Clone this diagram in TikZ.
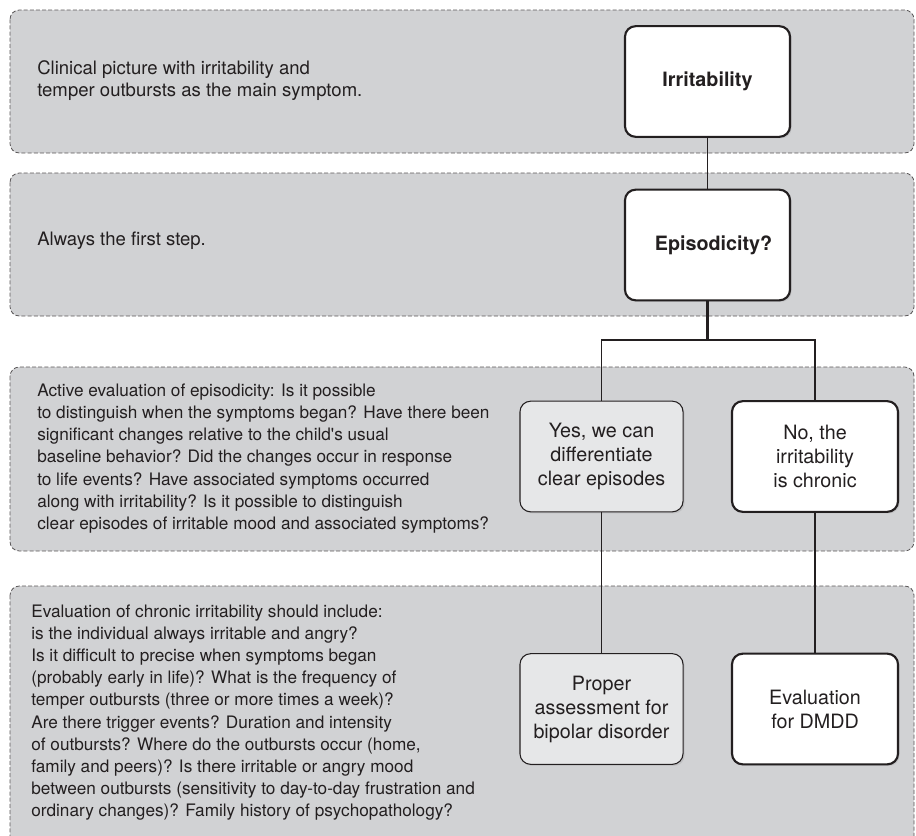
\documentclass[tikz,border=0pt]{standalone}
\usepackage{fontspec}
\setmainfont{TeX Gyre Heros}
\usetikzlibrary{shadows}
\definecolor{panelgray}{RGB}{209,210,212}
\definecolor{boxgray}{RGB}{230,231,232}
\definecolor{ink}{RGB}{35,31,32}

\begin{document}
\begin{tikzpicture}[x=0.75pt,y=-0.75pt,
  panel/.style={draw=ink!75, fill=panelgray, dash pattern=on 3pt off 1.6pt, line width=0.6pt, rounded corners=7pt},
  note/.style={anchor=west, align=left, text=ink, font=\fontsize{13.9}{16.6}\selectfont},
  longnote/.style={note, font=\fontsize{12.9}{16.6}\selectfont},
  stepbox/.style={draw=ink, fill=white, line width=1.6pt, rounded corners=8pt, align=center, text=ink,
    font=\fontsize{14.8}{18}\selectfont, minimum width=123.8pt, minimum height=83pt,
    drop shadow={shadow xshift=1.2pt, shadow yshift=-1.2pt, opacity=.2}},
  choicebox/.style={stepbox, fill=boxgray, line width=0.8pt, minimum width=122.3pt},
  thinlink/.style={draw=ink, line width=0.8pt},
  thicklink/.style={draw=ink, line width=1.7pt}]
\clip (0,0) rectangle (916,835);

% dashed bands
\draw[panel] (10,10) rectangle (914,153);
\draw[panel] (10,173) rectangle (914,316);
\draw[panel] (10,367) rectangle (914,551);
\draw[panel] (10,586) rectangle (914,860);

% notes on the left
\node[note] (n1) at (32.6,81) {Clinical picture with irritability and\\temper outbursts as the main symptom.};
\node[note] (n2) at (32.6,241) {Always the first step.};
\node[longnote] (n3) at (32.6,458.5) {Active evaluation of episodicity: Is it possible\\
  to distinguish when the symptoms began? Have there been\\
  significant changes relative to the child\textquotesingle s usual\\
  baseline behavior? Did the changes occur in response\\
  to life events? Have associated symptoms occurred\\
  along with irritability? Is it possible to distinguish\\
  clear episodes of irritable mood and associated symptoms?};
\node[longnote] (n4) at (26.6,712.5) {Evaluation of chronic irritability should include:\\
  is the individual always irritable and angry?\\
  Is it difficult to precise when symptoms began\\
  (probably early in life)? What is the frequency of\\
  temper outbursts (three or more times a week)?\\
  Are there trigger events? Duration and intensity\\
  of outbursts? Where do the outbursts occur (home,\\
  family and peers)? Is there irritable or angry mood\\
  between outbursts (sensitivity to day-to-day frustration and\\
  ordinary changes)? Family history of psychopathology?};

% decision boxes
\node[stepbox] (irr) at (707.5,81.5) {\bfseries Irritability};
\node[stepbox] (epi) at (707.5,245) {\bfseries\hspace{9pt}Episodicity?};
\node[choicebox] (yes) at (601.5,456.5) {Yes, we can\\differentiate\\clear episodes};
\node[stepbox, minimum width=124.5pt] (no) at (815,456.5) {No, the\\irritability\\is chronic};
\node[choicebox] (bip) at (601.5,709) {Proper\\assessment for\\bipolar disorder};
\node[stepbox, minimum width=124.5pt] (dmdd) at (815,709) {Evaluation\\for DMDD};

% connectors
\coordinate (fork) at (707.5,340);
\draw[thinlink] (irr) -- (epi);
\draw[thinlink] (fork) -| (yes);
\draw[thicklink] (epi) -- (fork) -| (no);
\draw[thinlink] (yes) -- (bip);
\draw[thicklink] (no) -- (dmdd);
\end{tikzpicture}
\end{document}
